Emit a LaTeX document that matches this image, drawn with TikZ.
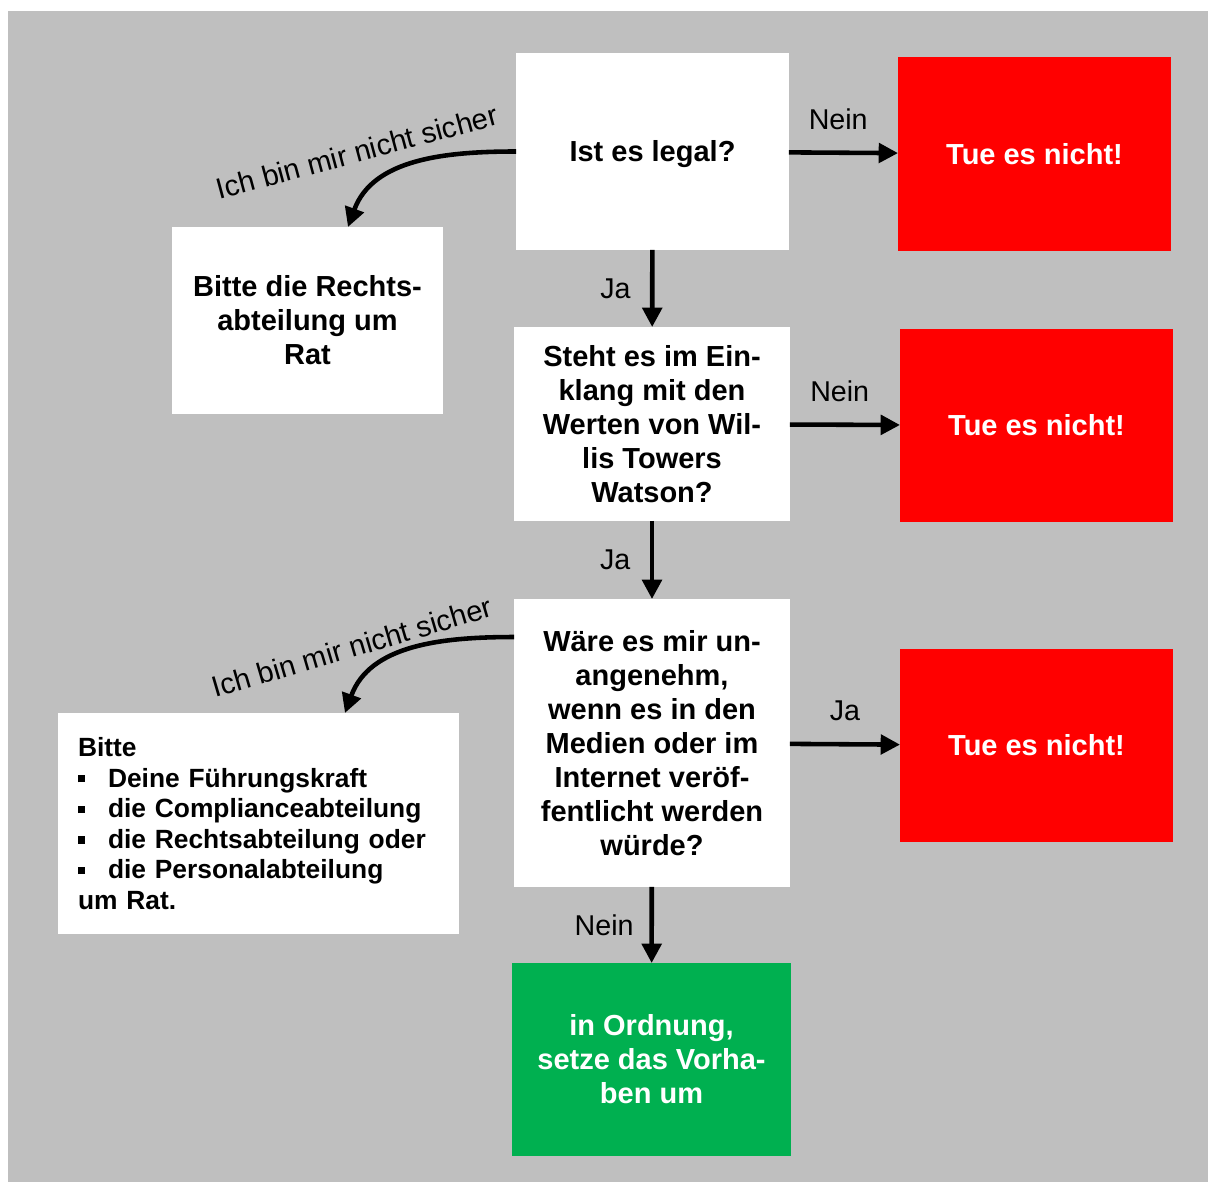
\documentclass[tikz,border=0pt]{standalone}
\usepackage{fontspec}
\setmainfont{Liberation Sans}
\usetikzlibrary{arrows.meta}
\definecolor{bggrey}{HTML}{BFBFBF}
\definecolor{stopred}{HTML}{FF0000}
\definecolor{okgreen}{HTML}{00B050}
\newcommand{\sqbullet}{\makebox[0.6cm][l]{\rule[2.6pt]{4.2pt}{4.2pt}}}
\begin{document}
\begin{tikzpicture}[x=0.02cm,y=-0.02cm,
  box/.style={fill=white, inner sep=0pt, outer sep=0pt, align=center,
    font=\fontsize{16.5}{19.3}\selectfont\bfseries},
  stopbox/.style={box, fill=stopred, text=white, minimum width=5.46cm, minimum height=3.87cm},
  flow/.style={line width=2.6pt, -{Triangle[length=11pt,width=11pt]}},
  lbl/.style={inner sep=0pt, font=\fontsize{16.3}{19}\selectfont},
  unsure/.style={inner sep=0pt, font=\fontsize{16.6}{20}\selectfont}]
\fill[bggrey] (8,11) rectangle (1208,1182);
\useasboundingbox (0,0) rectangle (1208,1182);
% boxes
\node[box, text depth=0pt, minimum width=5.46cm, minimum height=3.94cm] (legal) at (652.5,151.5) {Ist es legal?};
\node[stopbox] (no1) at (1034.5,154) {Tue es nicht!};
\node[box, minimum width=5.42cm, minimum height=3.74cm] (legaladv) at (307.5,320.5) {Bitte die Rechts-\\abteilung um\\Rat};
\node[box, minimum width=5.52cm, minimum height=3.88cm] (values) at (652,424) {Steht es im Ein-\\klang mit den\\Werten von Wil-\\lis Towers\\Watson?};
\node[stopbox] (no2) at (1036.5,425.5) {Tue es nicht!};
\node[box, minimum width=5.52cm, minimum height=5.76cm] (media) at (652,743) {W\"are es mir un-\\angenehm,\\wenn es in den\\Medien oder im\\Internet ver\"of-\\fentlicht werden\\w\"urde?};
\node[stopbox] (no3) at (1036.5,745.5) {Tue es nicht!};
\node[box, align=left, text width=7.22cm, inner xsep=0.4cm, minimum height=4.42cm,
  font=\fontsize{15}{17.4}\selectfont\bfseries] (advice) at (258.5,823.5)
  {Bitte\\\sqbullet Deine F\"uhrungskraft\\\sqbullet die Complianceabteilung\\\sqbullet die Rechtsabteilung oder\\\sqbullet die Personalabteilung\\um Rat.};
\node[box, fill=okgreen, text=white, minimum width=5.58cm, minimum height=3.86cm] (ok) at (651.5,1059.5) {in Ordnung,\\setze das Vorha-\\ben um};
% connectors
\draw[flow] (legal) -- node[lbl, above=12pt, xshift=-3pt] (n1) {Nein} (no1);
\draw[flow] (legal) -- node[lbl, left=11pt] (j1) {Ja} (values);
\draw[flow] (values) -- node[lbl, above=12pt, xshift=-3pt] (n2) {Nein} (no2);
\draw[flow] (values) -- node[lbl, left=11pt] (j2) {Ja} (media);
\draw[flow] (media) -- node[lbl, above=12pt] (j3) {Ja} (no3);
\draw[flow] (media) -- node[lbl, left=9pt] (n3) {Nein} (ok);
\draw[flow] (legal.west) to[out=180,in=70] ([xshift=0.81cm]legaladv.north);
\draw[flow] ([yshift=2.12cm]media.west) to[out=180,in=70] ([xshift=1.73cm]advice.north);
\node[unsure, rotate=15.1] (u1) at (357,152) {Ich bin mir nicht sicher};
\node[unsure, rotate=16.4] (u2) at (352,647) {Ich bin mir nicht sicher};
\end{tikzpicture}
\end{document}
